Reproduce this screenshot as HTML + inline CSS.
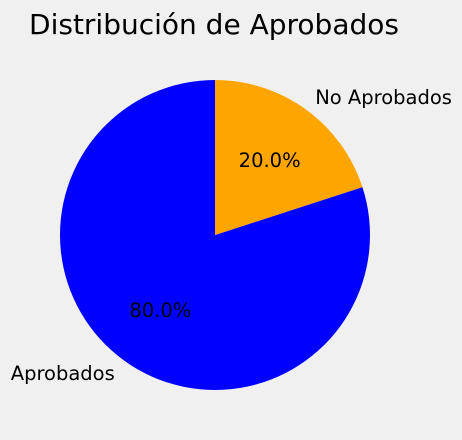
<!DOCTYPE html>
<html><head><meta charset="utf-8"><style>
html,body{margin:0;padding:0;background:#f0f0f0;}
svg{display:block;font-family:"DejaVu Sans","Liberation Sans",sans-serif;}
</style></head><body>
<svg id="chart" width="462" height="440" viewBox="0 0 462 440">
<rect width="462" height="440" fill="#f0f0f0"/>
<text x="214" y="34" font-size="28" text-anchor="middle" fill="#000">Distribución de Aprobados</text>
<g id="slices"></g>
</svg>
<script>
const categories = ["Aprobados", "No Aprobados"];
const values = [80, 20];
const colors = ["#0000ff", "#ffa500"];
const cx = 215, cy = 235, r = 155, startAngle = 90;
const g = document.getElementById('slices');
const NS = 'http://www.w3.org/2000/svg';
const total = values.reduce((a,b)=>a+b,0);
function pt(angDeg, rad){const a=angDeg*Math.PI/180;return [cx+rad*Math.cos(a), cy-rad*Math.sin(a)];}
let ang = startAngle;
values.forEach((v,i)=>{
  const sweep = v/total*360;
  const a0 = ang, a1 = ang + sweep;
  const p0 = pt(a0,r), p1 = pt(a1,r);
  const large = sweep>180?1:0;
  const path = document.createElementNS(NS,'path');
  path.setAttribute('d',`M${cx},${cy} L${p0[0]},${p0[1]} A${r},${r} 0 ${large} 0 ${p1[0]},${p1[1]} Z`);
  path.setAttribute('fill',colors[i]);
  
  
  g.appendChild(path);
  const mid = (a0+a1)/2;
  const lp = pt(mid, r*1.1);
  const lab = document.createElementNS(NS,'text');
  lab.setAttribute('x', lp[0]); lab.setAttribute('y', lp[1]+7);
  lab.setAttribute('font-size','19.5');
  lab.setAttribute('text-anchor', Math.cos(mid*Math.PI/180)<0?'end':'start');
  lab.textContent = categories[i];
  
  
  g.appendChild(lab);
  const pp = pt(mid, r*0.6);
  const pct = document.createElementNS(NS,'text');
  pct.setAttribute('x', pp[0]); pct.setAttribute('y', pp[1]+7);
  pct.setAttribute('font-size','19.5');
  pct.setAttribute('text-anchor','middle');
  pct.textContent = (v/total*100).toFixed(1)+'%';
  
  
  g.appendChild(pct);
  ang = a1;
});
</script>
</body></html>
